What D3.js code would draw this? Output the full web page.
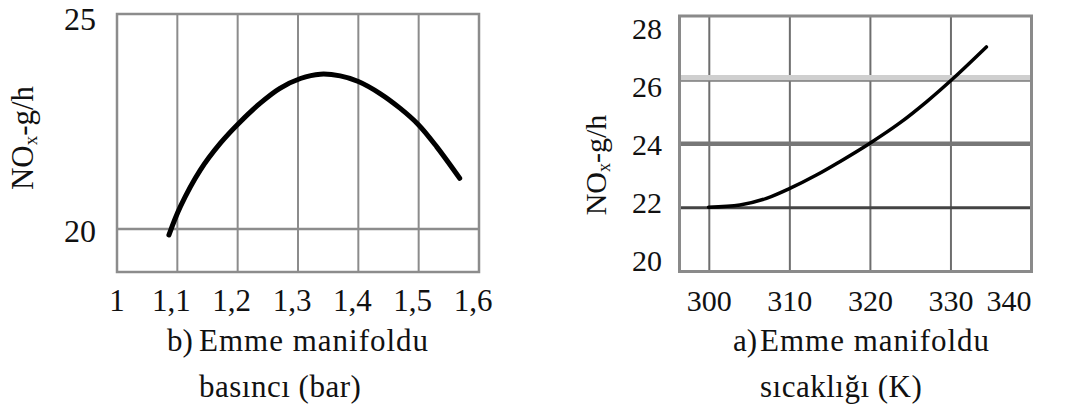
<!DOCTYPE html>
<html>
<head>
<meta charset="utf-8">
<script src="https://cdnjs.cloudflare.com/ajax/libs/d3/7.8.5/d3.min.js"></script>
<style>
  html, body { margin: 0; padding: 0; background: #fff; }
  svg text { fill: #111; }
</style>
</head>
<body>
<div id="chart"></div>
<script>
// b) intake manifold pressure (bar) vs NOx (g/h)
const pressure = [1.086, 1.105, 1.138, 1.171, 1.202, 1.237, 1.270, 1.304, 1.337, 1.370, 1.400, 1.436, 1.469, 1.500, 1.530, 1.568];
const noxPressure = [19.86, 20.52, 21.37, 21.99, 22.46, 22.92, 23.27, 23.50, 23.60, 23.56, 23.43, 23.15, 22.81, 22.42, 21.91, 21.18];
const pressureTicks = [1, 1.1, 1.2, 1.3, 1.4, 1.5, 1.6];
const pressureYTicks = [20, 25];

// a) intake manifold temperature (K) vs NOx (g/h)
const temperature = [299.9, 303.8, 307.1, 310.0, 313.3, 316.2, 319.9, 323.7, 327.0, 330.3, 334.4];
const noxTemperature = [22.01, 22.08, 22.29, 22.60, 23.02, 23.44, 24.01, 24.66, 25.32, 26.05, 27.03];
const temperatureTicks = [300, 310, 320, 330, 340];
const temperatureYTicks = [20, 22, 24, 26, 28];

const W = 1070, H = 419;
const FONT = "'Liberation Serif', Tinos, 'Times New Roman', Times, 'DejaVu Serif', serif";
const svg = d3.select("#chart").append("svg")
  .attr("width", W).attr("height", H)
  .attr("font-family", FONT);

const fmtComma = d => String(d).replace(".", ",");

// ---------- left panel ----------
{
  const x = d3.scaleLinear().domain([1, 1.6]).range([117, 479]);
  const y = d3.scaleLinear().domain([19, 25]).range([272, 14]);
  const g = svg.append("g");

  // vertical grid
  g.selectAll("line.vg").data(pressureTicks.slice(1, -1)).join("line")
    .attr("x1", d => x(d)).attr("x2", d => x(d))
    .attr("y1", y(19)).attr("y2", y(25))
    .attr("stroke", "#8c8c8c").attr("stroke-width", 2);
  // horizontal grid at 20
  g.append("line")
    .attr("x1", x(1)).attr("x2", x(1.6))
    .attr("y1", y(20)).attr("y2", y(20))
    .attr("stroke", "#8c8c8c").attr("stroke-width", 2.5);
  // frame
  g.append("rect")
    .attr("x", x(1)).attr("y", y(25))
    .attr("width", x(1.6) - x(1)).attr("height", y(19) - y(25))
    .attr("fill", "none").attr("stroke", "#8c8c8c").attr("stroke-width", 2.5);

  // curve
  const line = d3.line().x(d => x(d[0])).y(d => y(d[1])).curve(d3.curveCatmullRom);
  g.append("path")
    .datum(pressure.map((p, i) => [p, noxPressure[i]]))
    .attr("d", line)
    .attr("fill", "none").attr("stroke", "#000")
    .attr("stroke-width", 5).attr("stroke-linecap", "round");

  // y tick labels
  g.selectAll("text.yt").data(pressureYTicks).join("text")
    .attr("x", 96).attr("y", (d, i) => y(d) + (i ? 5 : 2))
    .attr("dy", "0.33em").attr("text-anchor", "end")
    .style("font-size", "32px").text(d => d);

  // x tick labels
  g.selectAll("text.xt").data(pressureTicks).join("text")
    .attr("x", (d, i) => x(d) - (i ? 6 : 0)).attr("y", 311)
    .attr("text-anchor", "middle")
    .style("font-size", "31px").text(fmtComma);

  // y title
  const yt = g.append("text")
    .attr("transform", "translate(33,138) rotate(-90)")
    .attr("text-anchor", "middle").style("font-size", "31px");
  yt.append("tspan").text("NO");
  yt.append("tspan").attr("dy", 4).style("font-size", "19px").text("x");
  yt.append("tspan").attr("dy", -4).text("-g/h");

  // caption
  g.append("text").attr("x", 167).attr("y", 351).style("font-size", "31px").text("b)");
  g.append("text").attr("x", 199).attr("y", 351).style("font-size", "31px")
    .style("letter-spacing", "1px").text("Emme manifoldu");
  g.append("text").attr("x", 199).attr("y", 397).style("font-size", "31px")
    .style("letter-spacing", "0.5px").text("basıncı (bar)");
}

// ---------- right panel ----------
{
  const x = d3.scaleLinear().domain([296.3, 340]).range([679.5, 1031.5]);
  const y = d3.scaleLinear().domain([20, 28]).range([271.5, 16]);
  // labels on the left axis sit on their own slightly compressed spacing in the original
  const yLab = d3.scaleLinear().domain([20, 28]).range([260, 28]);
  const g = svg.append("g");

  // vertical grid
  g.selectAll("line.vg").data(temperatureTicks.slice(0, -1)).join("line")
    .attr("x1", d => x(d)).attr("x2", d => x(d))
    .attr("y1", y(20)).attr("y2", y(28))
    .attr("stroke", "#6e6e6e").attr("stroke-width", 2);

  // horizontal grid (each line printed with its own weight)
  const hStyle = {
    26: [{ c: "#cfcfcf", w: 6, o: -2 }, { c: "#7a7a7a", w: 1.5, o: 1 }],
    24: [{ c: "#777", w: 4.5, o: 0 }],
    22: [{ c: "#444", w: 3, o: 0 }]
  };
  [26, 24, 22].forEach(v => {
    hStyle[v].forEach(s => {
      g.append("line")
        .attr("x1", x(296.3)).attr("x2", x(340))
        .attr("y1", y(v) + s.o).attr("y2", y(v) + s.o)
        .attr("stroke", s.c).attr("stroke-width", s.w);
    });
  });

  // frame
  g.append("rect")
    .attr("x", x(296.3)).attr("y", y(28))
    .attr("width", x(340) - x(296.3)).attr("height", y(20) - y(28))
    .attr("fill", "none").attr("stroke", "#8a8a8a").attr("stroke-width", 3);

  // curve
  const line = d3.line().x(d => x(d[0])).y(d => y(d[1])).curve(d3.curveCatmullRom);
  g.append("path")
    .datum(temperature.map((t, i) => [t, noxTemperature[i]]))
    .attr("d", line)
    .attr("fill", "none").attr("stroke", "#000")
    .attr("stroke-width", 3.5).attr("stroke-linecap", "round");

  // y tick labels
  g.selectAll("text.yt").data(temperatureYTicks).join("text")
    .attr("x", 662).attr("y", d => yLab(d))
    .attr("dy", "0.35em").attr("text-anchor", "end")
    .style("font-size", "30px").text(d => d);

  // x tick labels
  g.selectAll("text.xt").data(temperatureTicks).join("text")
    .attr("x", d => x(d))
    .attr("y", 311)
    .attr("text-anchor", (d, i, n) => i === n.length - 1 ? "end" : "middle")
    .style("font-size", "30px").text(d => d);

  // y title
  const yt = g.append("text")
    .attr("transform", "translate(606,165) rotate(-90)")
    .attr("text-anchor", "middle").style("font-size", "30px");
  yt.append("tspan").text("NO");
  yt.append("tspan").attr("dy", 4).style("font-size", "18px").text("x");
  yt.append("tspan").attr("dy", -4).text("-g/h");

  // caption
  g.append("text").attr("x", 733).attr("y", 351).style("font-size", "31px").text("a)");
  g.append("text").attr("x", 760).attr("y", 351).style("font-size", "31px")
    .style("letter-spacing", "1px").text("Emme manifoldu");
  g.append("text").attr("x", 760).attr("y", 397).style("font-size", "31px")
    .style("letter-spacing", "0.5px").text("sıcaklığı (K)");
}
</script>
</body>
</html>
